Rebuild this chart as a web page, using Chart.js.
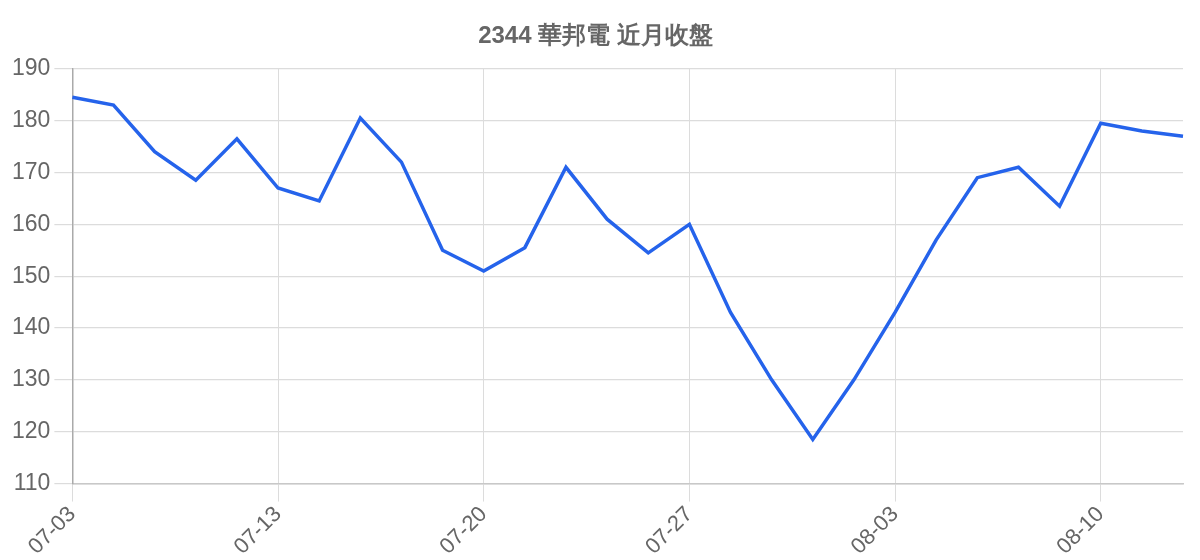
<!DOCTYPE html>
<html>
<head>
<meta charset="utf-8">
<script src="https://cdn.jsdelivr.net/npm/chart.js@4"></script>
<style>
  html, body { margin: 0; padding: 0; background: #fff; }
  #wrap { width: 1200px; height: 560px; }
</style>
</head>
<body>
<div id="wrap"><canvas id="chart" width="1200" height="560"></canvas></div>
<script>
const title = '2344 華邦電 近月收盤';

const dates = [
    '07-03', '07-06', '07-07', '07-08', '07-10',
    '07-13', '07-14', '07-15', '07-16', '07-17',
    '07-20', '07-21', '07-22', '07-23', '07-24',
    '07-27', '07-28', '07-29', '07-30', '07-31',
    '08-03', '08-04', '08-05', '08-06', '08-07',
    '08-10', '08-11', '08-12'
];

const closes = [
    184.5, 183, 174, 168.5, 176.5,
    167, 164.5, 180.5, 172, 155,
    151, 155.5, 171, 161, 154.5,
    160, 143, 130, 118.5, 130,
    143, 157, 169, 171, 163.5,
    179.5, 178, 177
];

const yMin = 110;
const yMax = 190;
const yStep = 10;

const textColor = '#666';
const gridColor = '#dcdcdc';
const fontFamily = '"Liberation Sans", Arial, sans-serif';

new Chart(document.getElementById('chart'), {
    type: 'line',
    data: {
        labels: dates,
        datasets: [{
            label: title,
            data: closes,
            borderColor: '#2563eb',
            borderWidth: 3.5,
            pointRadius: 0,
            tension: 0,
            fill: false
        }]
    },
    options: {
        responsive: false,
        animation: false,
        layout: { padding: { left: 8, right: 17 } },
        plugins: {
            legend: { display: false },
            tooltip: { enabled: false },
            title: {
                display: true,
                text: title,
                color: textColor,
                font: { family: fontFamily, size: 24, weight: 'bold' },
                padding: { top: 22, bottom: 18 }
            }
        },
        scales: {
            x: {
                grid: { color: gridColor, tickColor: gridColor, tickLength: 18 },
                border: { color: '#c8c8c8', width: 1.5 },
                ticks: {
                    color: textColor,
                    font: { family: fontFamily, size: 22 },
                    autoSkip: true,
                    maxTicksLimit: 6,
                    maxRotation: 45,
                    minRotation: 45,
                    padding: 0
                }
            },
            y: {
                min: yMin,
                max: yMax,
                grid: { color: gridColor, tickColor: gridColor, tickLength: 18, lineWidth: 1.2 },
                border: { color: '#aaa', width: 1.5 },
                ticks: {
                    stepSize: yStep,
                    color: textColor,
                    padding: 4,
                    font: { family: fontFamily, size: 23 }
                }
            }
        }
    }
});
</script>
</body>
</html>
